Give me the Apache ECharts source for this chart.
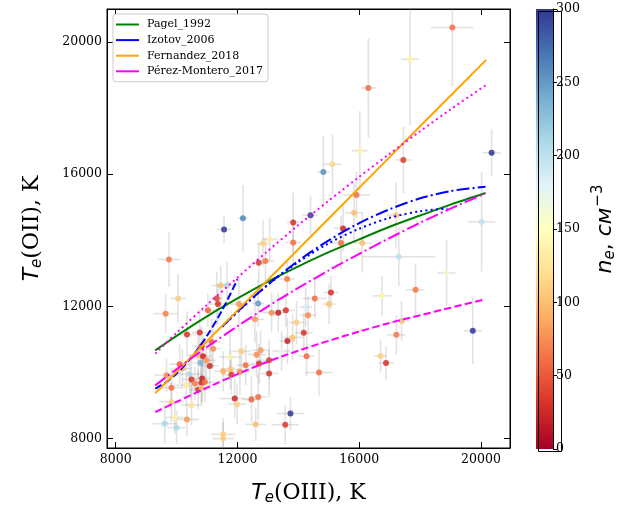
<!DOCTYPE html>
<html>
<head>
<meta charset="utf-8">
<script src="https://cdn.jsdelivr.net/npm/echarts@6/dist/echarts.min.js"></script>
<style>
  html, body { margin: 0; padding: 0; background: #fff; }
  #chart { width: 619px; height: 513px; }
</style>
</head>
<body>
<div id="chart"></div>
<script>
// Measured H II region temperatures: Te(OIII), Te(OII) [K], electron density ne [cm^-3], and their errors
const te3 = [9750,10050,11560,12180,12840,13060,12700,12920,13630,11450,
  11660,11320,11360,11030,12680,12050,13830,13830,14400,14820,
  15120,16020,14540,15070,15010,15910,15830,15470,15400,16100,
  17450,17210,17300,17850,16750,18870,20020,20350,19730,17390,
  16300,19060,17670,13590,14240,14320,13940,14180,13810,13640,
  14270,14680,16700,16880,17220,13740,13570,9640,10340,10760,
  11150,10820,11200,10710,10870,10980,10790,11090,10100,10190,
  10430,9670,10490,10840,10820,10930,10600,10320,9830,10710,
  10820,11750,11530,11770,11800,12080,12270,12130,12630,12760,
  12710,13040,13040,13450,13120,13340,12570,11910,11990,12460,
  12680,10490,9830,9940,10340,9610,10000,11530,11530,12600];
const te2 = [13420,12240,14330,14670,13900,14030,13320,13370,12830,12630,
  12640,12240,12070,11880,12090,12070,14540,13930,14760,16070,
  16300,16710,12240,12420,12070,15370,14830,14360,13920,13920,
  16430,14760,13500,12500,12320,13010,14560,16650,11260,11560,
  18610,20440,19480,11880,11980,11730,11510,11200,11060,10950,
  10490,10000,10500,10290,11140,8760,8420,11780,11150,11210,
  10920,10790,10720,10520,10490,10370,10290,10200,10250,10120,
  9950,9920,9790,9820,9680,9710,9670,9610,9540,9480,
  9530,10470,10040,10100,9930,10020,10220,10640,10540,10670,
  10270,10370,9970,10650,11810,11810,11610,9210,9040,9180,
  9260,9010,9110,8640,8580,8450,8330,8130,8000,8430];
const ne = [65,110,300,260,110,135,35,65,65,100,
  210,40,30,55,250,80,30,60,300,255,
  115,140,60,30,100,60,100,25,60,100,
  35,100,200,65,140,160,200,300,300,100,
  60,60,140,30,185,75,110,30,100,20,
  60,60,110,30,65,300,35,70,30,30,
  55,25,75,100,25,75,235,25,55,90,
  210,75,30,20,25,60,70,130,60,30,
  100,140,90,100,35,75,60,110,75,80,
  30,35,30,170,75,20,80,25,110,55,
  60,125,110,140,80,210,210,110,110,100];
const te3Err = [360,250,230,150,200,250,200,300,250,300,
  250,200,350,300,200,300,200,250,250,200,
  300,250,400,250,200,450,300,300,350,300,
  250,300,1200,300,300,300,450,300,300,250,
  250,700,300,300,200,250,250,300,350,250,
  250,450,200,250,300,450,450,400,300,250,
  300,300,250,300,250,300,250,300,350,300,
  350,400,300,250,300,300,250,400,350,300,
  300,350,300,300,300,300,300,300,300,300,
  300,250,300,300,300,300,300,500,300,300,
  300,350,400,300,400,400,300,400,350,350];
const te2Err = [830,750,400,1000,700,650,600,700,550,600,
  700,800,600,500,700,800,900,700,600,1100,
  900,1200,600,500,600,700,900,700,800,900,
  1000,1000,900,800,600,1000,1500,700,1000,600,
  1500,1800,2000,500,600,600,650,600,700,700,
  600,700,500,500,600,500,600,600,700,600,
  700,600,600,700,600,600,600,700,600,600,
  600,500,600,700,600,600,500,600,600,600,
  500,700,600,600,600,700,600,700,700,600,
  600,600,700,600,600,600,700,600,600,700,
  700,600,600,500,500,600,500,500,500,500];

// Empirical Te(OII)–Te(OIII) relations
const pagelX = [9300,10000,11000,12000,13000,14000,15000,16000,17000,18000,19000,20150];
const pagelY = [10670,11110,11700,12240,12750,13210,13640,14030,14410,14750,15080,15430];
const izotovHighX = [9300,9700,10000,10500,11000,11500,12000];
const izotovHighY = [9510,9740,9970,10470,11110,11890,12820];
const izotovLowX = [11500,12000,13000,14000,15000,16000,17000,18000,19000,20150];
const izotovLowY = [11390,11840,12660,13380,14000,14520,14940,15270,15490,15620];
const izotovMidX = [11500,12000,13000,14000,15000,16000,17000,18000,18900];
const izotovMidY = [11380,11830,12650,13340,13910,14350,14680,14880,14960];
const fernandezX = [9300,12000,15000,18000,20170];
const fernandezY = [9370,11880,14660,17450,19460];
const pmDotX = [9300,10000,11000,12000,13000,14000,15000,16000,17000,18000,19000,20150];
const pmDotY = [10570,11200,12050,12870,13680,14460,15200,15920,16620,17300,17960,18690];
const pmDashDotX = [9300,10000,11000,12000,13000,14000,15000,16000,17000,18000,19000,20150];
const pmDashDotY = [9610,10100,10770,11400,12000,12560,13090,13590,14070,14530,14960,15420];
const pmDashX = [9300,10000,11000,12000,13000,14000,15000,16000,17000,18000,19000,20150];
const pmDashY = [8800,9110,9540,9950,10330,10660,10960,11240,11500,11730,11960,12220];

const xTicks = [8000, 12000, 16000, 20000];
const yTicks = [8000, 12000, 16000, 20000];

const rdylbu = ['#a50026','#d73027','#f46d43','#fdae61','#fee090','#ffffbf',
                '#e0f3f8','#abd9e9','#74add1','#4575b4','#313695'];

const points = te3.map((x, i) => [x, te2[i], ne[i], te3Err[i], te2Err[i]]);
const zip = (xs, ys) => xs.map((x, i) => [x, ys[i]]);

const serif = 'DejaVu Serif';
const sans = 'DejaVu Sans';
const tickFont = { fontFamily: serif, fontSize: 12.5, color: '#000', formatter: v => String(v) };

const titleRich = {
  t: { fontFamily: sans, fontStyle: 'italic', fontSize: 22, color: '#000' },
  e: { fontFamily: sans, fontStyle: 'italic', fontSize: 15, color: '#000', padding: [11, 0, 0, 0] },
  r: { fontFamily: serif, fontSize: 22, color: '#000' }
};
const cbRich = {
  n: { fontFamily: sans, fontStyle: 'italic', fontSize: 22, color: '#000' },
  e: { fontFamily: sans, fontStyle: 'italic', fontSize: 15, color: '#000', padding: [11, 0, 0, 0] },
  c: { fontFamily: sans, fontSize: 22, color: '#000' },
  m: { fontFamily: sans, fontStyle: 'italic', fontSize: 22, color: '#000' },
  s: { fontFamily: sans, fontSize: 15, color: '#000', padding: [0, 0, 13, 1] }
};

const XMIN = 7714, XMAX = 20953, YMIN = 7715, YMAX = 20999;

function curve(name, xs, ys, color, type) {
  return {
    name: name, type: 'line', xAxisIndex: 0, yAxisIndex: 0,
    data: zip(xs, ys), symbol: 'none', smooth: 0.3, z: 4,
    lineStyle: { color: color, width: 2, type: type, cap: 'butt' },
    itemStyle: { color: color }, silent: true
  };
}

const chart = echarts.init(document.getElementById('chart'), null, { renderer: 'canvas' });
chart.setOption({
  animation: false,
  backgroundColor: '#fff',
  grid: [
    { left: 107, top: 9, width: 403, height: 439, show: true, borderColor: '#000', borderWidth: 1 },
    { left: 536, top: 9, width: 23, height: 440 }
  ],
  xAxis: [
    {
      gridIndex: 0, type: 'value', min: XMIN, max: XMAX, position: 'bottom',
      axisLine: { show: true, onZero: false, lineStyle: { color: '#000', width: 1 } },
      axisTick: { show: true, inside: true, length: 6, customValues: xTicks, lineStyle: { color: '#000' } },
      axisLabel: { customValues: xTicks, margin: 5, ...tickFont },
      splitLine: { show: false },
      name: '{t|T}{e|e}{r|(OIII), K}', nameLocation: 'middle', nameGap: 32,
      nameTextStyle: { rich: titleRich }
    },
    {
      gridIndex: 0, type: 'value', min: XMIN, max: XMAX, position: 'top',
      axisLine: { show: true, onZero: false, lineStyle: { color: '#000', width: 1 } },
      axisTick: { show: true, inside: true, length: 6, customValues: xTicks, lineStyle: { color: '#000' } },
      axisLabel: { show: false }, splitLine: { show: false }
    },
    { gridIndex: 1, type: 'category', data: ['ne'], show: false }
  ],
  yAxis: [
    {
      gridIndex: 0, type: 'value', min: YMIN, max: YMAX, position: 'left',
      axisLine: { show: true, onZero: false, lineStyle: { color: '#000', width: 1 } },
      axisTick: { show: true, inside: true, length: 6, customValues: yTicks, lineStyle: { color: '#000' } },
      axisLabel: { customValues: yTicks, margin: 5, ...tickFont },
      splitLine: { show: false },
      name: '{t|T}{e|e}{r|(OII), K}', nameLocation: 'middle', nameGap: 62, nameRotate: 90,
      nameTextStyle: { rich: titleRich }
    },
    {
      gridIndex: 0, type: 'value', min: YMIN, max: YMAX, position: 'right',
      axisLine: { show: true, onZero: false, lineStyle: { color: '#000', width: 1 } },
      axisTick: { show: true, inside: true, length: 6, customValues: yTicks, lineStyle: { color: '#000' } },
      axisLabel: { show: false }, splitLine: { show: false }
    },
    {
      gridIndex: 1, type: 'value', min: 0, max: 300, interval: 50, position: 'right',
      axisLine: { show: true, lineStyle: { color: '#000', width: 1 } },
      axisTick: { show: true, inside: false, length: 4, lineStyle: { color: '#000' } },
      axisLabel: { margin: 3, ...tickFont },
      splitLine: { show: false },
      name: '{n|n}{e|e}{c|, }{m|см}{s|−3}', nameLocation: 'middle', nameGap: 38, nameRotate: 90,
      nameTextStyle: { rich: cbRich }
    }
  ],
  visualMap: {
    show: false, type: 'continuous', min: 0, max: 300, dimension: 2, seriesIndex: 1,
    inRange: { color: rdylbu }
  },
  legend: {
    orient: 'vertical', left: 113, top: 14,
    padding: [4, 5, 4, 3], itemGap: 2.6, itemWidth: 23, itemHeight: 2,
    icon: 'rect',
    backgroundColor: 'rgba(255,255,255,0.85)', borderColor: '#cccccc', borderWidth: 1, borderRadius: 3,
    textStyle: { fontFamily: serif, fontSize: 11, color: '#000', padding: [0, 0, 0, 3], lineHeight: 13 },
    selectedMode: false,
    data: [
      { name: 'Pagel_1992' },
      { name: 'Izotov_2006' },
      { name: 'Fernandez_2018' },
      { name: 'Pérez-Montero_2017' }
    ]
  },
  graphic: [
    { type: 'rect', left: 536, top: 9, shape: { width: 23, height: 440 },
      style: { fill: null, stroke: '#000', lineWidth: 1 }, z: 100, silent: true }
  ],
  series: [
    {
      // error bars
      type: 'custom', xAxisIndex: 0, yAxisIndex: 0, data: points, clip: true, z: 1, silent: true,
      renderItem: function (params, api) {
        const x = api.value(0), y = api.value(1), ex = api.value(3), ey = api.value(4);
        const a = api.coord([x - ex, y]), b = api.coord([x + ex, y]);
        const c = api.coord([x, y - ey]), d = api.coord([x, y + ey]);
        const st = { stroke: 'rgba(150,150,150,0.28)', lineWidth: 1.6 };
        return {
          type: 'group',
          children: [
            { type: 'line', shape: { x1: a[0], y1: a[1], x2: b[0], y2: b[1] }, style: st },
            { type: 'line', shape: { x1: c[0], y1: c[1], x2: d[0], y2: d[1] }, style: st }
          ]
        };
      }
    },
    {
      name: 'ne', type: 'scatter', xAxisIndex: 0, yAxisIndex: 0, data: points,
      symbolSize: 6, z: 3, silent: true, itemStyle: { opacity: 0.85 }
    },
    curve('Pagel_1992', pagelX, pagelY, '#008000', 'solid'),
    curve('Izotov_2006', izotovHighX, izotovHighY, '#0000ff', [7.4, 3.2]),
    curve('Izotov_2006', izotovLowX, izotovLowY, '#0000ff', [12.8, 3.2, 2, 3.2]),
    curve('Izotov_2006', izotovMidX, izotovMidY, '#0000ff', [2, 3.3]),
    curve('Fernandez_2018', fernandezX, fernandezY, '#ffa500', 'solid'),
    curve('Pérez-Montero_2017', pmDotX, pmDotY, '#ff00ff', [2, 3.3]),
    curve('Pérez-Montero_2017', pmDashDotX, pmDashDotY, '#ff00ff', [12.8, 3.2, 2, 3.2]),
    curve('Pérez-Montero_2017', pmDashX, pmDashY, '#ff00ff', [7.4, 3.2]),
    {
      // colour bar
      type: 'bar', xAxisIndex: 2, yAxisIndex: 2, data: [300], barWidth: '100%', silent: true, z: 1,
      itemStyle: {
        color: {
          type: 'linear', x: 0, y: 1, x2: 0, y2: 0,
          colorStops: rdylbu.map((c, i) => ({ offset: i / (rdylbu.length - 1), color: c }))
        }
      }
    }
  ]
});
</script>
</body>
</html>
